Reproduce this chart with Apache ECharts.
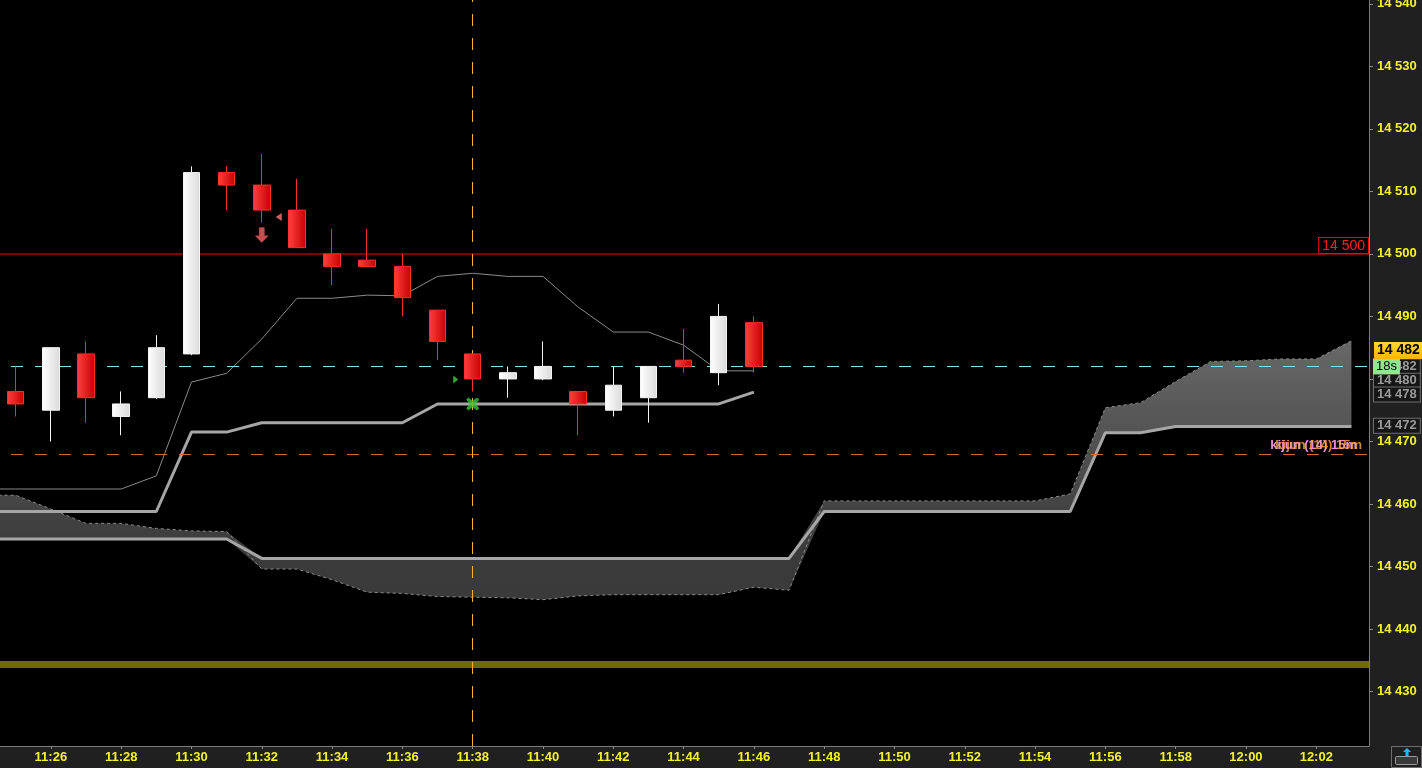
<!DOCTYPE html>
<html><head><meta charset="utf-8">
<script src="https://cdn.jsdelivr.net/npm/echarts@6/dist/echarts.min.js"></script>
<style>html,body{margin:0;padding:0;background:#202020;overflow:hidden}#c{width:1422px;height:768px;}</style>
</head><body><div id="c"></div>
<script>
// ---- categories (1-minute bars) ----
const categories = ['11:24','11:25','11:26','11:27','11:28','11:29','11:30','11:31','11:32','11:33',
  '11:34','11:35','11:36','11:37','11:38','11:39','11:40','11:41','11:42','11:43','11:44','11:45',
  '11:46','11:47','11:48','11:49','11:50','11:51','11:52','11:53','11:54','11:55','11:56','11:57',
  '11:58','11:59','12:00','12:01','12:02','12:03'];

// ---- candles ----
const candleTimes = ['11:25','11:26','11:27','11:28','11:29','11:30','11:31','11:32','11:33','11:34','11:35',
  '11:36','11:37','11:38','11:39','11:40','11:41','11:42','11:43','11:44','11:45','11:46'];
const opens  = [14478,14475,14484,14474,14477,14484,14513,14511,14507,14500,14499,14498,14491,14484,14480,14480,14478,14475,14477,14483,14481,14489];
const closes = [14476,14485,14477,14476,14485,14513,14511,14507,14501,14498,14498,14493,14486,14480,14481,14482,14476,14479,14482,14482,14490,14482];
const lows   = [14474,14470,14473,14471,14476.8,14483.8,14507,14505,14501,14495,14498,14490,14483,14478,14477,14479.8,14471,14474,14473,14481,14479,14481];
const highs  = [14482,14485,14486,14478,14487,14514,14514,14516,14512,14504,14504,14500,14491,14484,14482,14486,14478,14482,14482,14488,14492,14490];

// ---- ichimoku lines (index aligned with categories) ----
const tenkan = [14462.4,14462.4,14462.4,14462.4,14462.4,14464.5,14479.5,14480.9,14486.4,14492.9,14492.9,14493.4,
  14493.3,14496.4,14496.9,14496.4,14496.4,14491.5,14487.5,14487.5,14485.4,14481.3,14481.3];
const kijun = [14458.8,14458.8,14458.8,14458.8,14458.8,14458.8,14471.5,14471.5,14473.0,14473.0,14473.0,14473.0,
  14473.0,14476.0,14476.0,14476.0,14476.0,14476.0,14476.0,14476.0,14476.0,14476.0,14477.9];
const senkouA = [14454.4,14454.4,14454.4,14454.4,14454.4,14454.4,14454.4,14454.4,
  14451.3,14451.3,14451.3,14451.3,14451.3,14451.3,14451.3,14451.3,14451.3,14451.3,14451.3,14451.3,14451.3,14451.3,14451.3,14451.3,
  14458.8,14458.8,14458.8,14458.8,14458.8,14458.8,14458.8,14458.8,
  14471.4,14471.4,14472.4,14472.4,14472.4,14472.4,14472.4,14472.4];
const senkouB = [14461.4,14461.4,14459.2,14456.9,14456.9,14456.1,14455.7,14455.6,14449.6,14449.6,14447.9,14445.9,
  14445.7,14445.2,14445.1,14445.0,14444.7,14445.3,14445.5,14445.5,14445.5,14445.5,14446.7,14446.2,
  14460.5,14460.5,14460.5,14460.5,14460.5,14460.5,14460.5,14461.6,14475.4,14476.2,14479.6,14482.8,
  14482.9,14483.2,14483.2,14486.1];

// ---- horizontal levels ----
const resistanceLevel = 14500;
const lastPrice = 14482;
const kijun15Level = 14468;
const supportLevel = 14434.4;
const cursorTime = '11:38';

// ---- right-axis value tags ----
const tagValues = [14482, 14479.7, 14477.5, 14472.5];
const tagTexts  = ['14 482', '14 480', '14 478', '14 472'];

// ---- signal markers ----
const sellArrowTimes = ['11:32'], sellArrowValues = [14503];
const sellTriTimes = ['11:32'],   sellTriValues = [14505.9];
const buyTriTimes = ['11:38'],    buyTriValues = [14479.9];
const crossTimes = ['11:38'],     crossValues = [14476.0];

const FONT = "'Liberation Sans',Arial,sans-serif";
const FS = 13;
const YEL = '#f2f22a';
const NOLINE = {color: 'rgba(0,0,0,0)', width: 0};
const fmtNum = v => { const s = String(Math.round(v)); return s.slice(0, s.length-3) + ' ' + s.slice(-3); };

const candleData = candleTimes.map((t,i)=>[t, opens[i], closes[i], lows[i], highs[i]]);
const cloudBase = senkouA.map((a,i)=>Math.min(a, senkouB[i]));
const cloudDiff = senkouA.map((a,i)=>Math.abs(a - senkouB[i]));
const pair = (ts, vs) => ts.map((t,i)=>[t, vs[i]]);

const tagLines = tagValues.map((v,i)=>({
  yAxis: v,
  lineStyle: NOLINE,
  label: {show: true, position: 'end', distance: 5, formatter: tagTexts[i],
    color: '#9a9a9a', fontFamily: FONT, fontSize: FS, fontWeight: 'bold',
    backgroundColor: '#161616', borderColor: '#6e6e6e', borderWidth: 1, padding: [1, 3, 0, 3]}
}));

const chart = echarts.init(document.getElementById('c'), null, {renderer: 'canvas'});
chart.setOption({
  backgroundColor: '#202020',
  animation: false,
  grid: {left: -37, right: 53, top: 0, bottom: 22, show: true, backgroundColor: '#000', borderWidth: 0,
    containLabel: false, outerBoundsMode: 'none'},
  xAxis: {
    type: 'category', data: categories, boundaryGap: true,
    axisLine: {show: true, lineStyle: {color: '#7a7a7a', width: 1}},
    axisTick: {show: true, alignWithLabel: true, length: 3, interval: i => i % 2 === 0 && i > 0, lineStyle: {color: '#8a8a8a'}},
    axisLabel: {interval: i => i % 2 === 0 && i > 0, color: YEL, fontFamily: FONT, fontSize: FS, fontWeight: 'bold', margin: 5},
    splitLine: {show: false}
  },
  yAxis: {
    type: 'value', position: 'right', min: 14421.3, max: 14540.6, minInterval: 10, maxInterval: 10, splitNumber: 12,
    axisLine: {show: true, lineStyle: {color: '#7a7a7a', width: 1}},
    axisTick: {show: true, length: 4, lineStyle: {color: '#8a8a8a'}},
    axisLabel: {color: YEL, fontFamily: FONT, fontSize: FS, fontWeight: 'bold', margin: 8,
      showMinLabel: false, showMaxLabel: false,
      formatter: v => Math.abs(v - Math.round(v/10)*10) < 1e-6 ? fmtNum(v) : ''},
    splitLine: {show: false}
  },
  series: [
    {type: 'line', name: 'cloudBase', data: cloudBase, stack: 'cloud', symbol: 'none', silent: true, z: 1,
      lineStyle: NOLINE},
    {type: 'line', name: 'cloud', data: cloudDiff, stack: 'cloud', symbol: 'none', silent: true, z: 1,
      lineStyle: NOLINE,
      areaStyle: {opacity: 1, color: {type: 'linear', x: 0, y: 0, x2: 0, y2: 1, colorStops: [
        {offset: 0, color: '#686868'}, {offset: 0.3, color: '#575757'}, {offset: 0.62, color: '#454545'},
        {offset: 0.8, color: '#3b3b3b'}, {offset: 1, color: '#3a3a3a'}]}}},
    {type: 'line', name: 'senkouB', data: senkouB, symbol: 'none', silent: true, z: 2,
      lineStyle: {color: '#8c8c8c', width: 1, type: [3, 3]}},
    {type: 'line', name: 'senkouA', data: senkouA, symbol: 'none', silent: true, z: 3,
      lineStyle: {color: '#a6a6a6', width: 3}},
    {type: 'line', name: 'kijun', data: kijun, symbol: 'none', silent: true, z: 3,
      lineStyle: {color: '#a6a6a6', width: 3}},
    {type: 'line', name: 'tenkan', data: tenkan, symbol: 'none', silent: true, z: 3,
      lineStyle: {color: '#8a8a8a', width: 1}},
    {type: 'candlestick', name: 'price', data: candleData, encode: {x: 0, y: [1, 2, 3, 4]}, barWidth: 17, z: 5,
      itemStyle: {
        color: {type: 'linear', x: 0, y: 0, x2: 1, y2: 0, colorStops: [{offset: 0, color: '#ffffff'}, {offset: 1, color: '#dadada'}]},
        color0: {type: 'linear', x: 0, y: 0, x2: 1, y2: 0, colorStops: [{offset: 0, color: '#ff4040'}, {offset: 1, color: '#c80000'}]},
        borderColor: '#f4f4f4', borderColor0: '#ff2e2e', borderWidth: 1
      }
    },
    // level lines
    {type: 'line', name: 'levels', data: [], z: 7, silent: true,
      markLine: {
        symbol: ['none', 'none'], silent: true, animation: false,
        data: [
          {yAxis: supportLevel, lineStyle: {color: 'rgba(222,214,0,0.5)', width: 7, type: 'solid'}, label: {show: false}},
          {yAxis: resistanceLevel, lineStyle: {color: 'rgba(255,0,0,0.5)', width: 2, type: 'solid'},
            label: {show: true, position: 'insideEndTop', distance: 1, formatter: fmtNum(resistanceLevel),
              color: '#ff2020', fontFamily: FONT, fontSize: 14, backgroundColor: '#000',
              borderColor: '#ff0000', borderWidth: 1, padding: [1, 3, 0, 3]}},
          {yAxis: kijun15Level, lineStyle: {color: '#d0683c', width: 1, type: [12, 12]},
            label: {show: true, position: 'insideEndTop', distance: 2, formatter: 'kijun (14) 15m',
              color: '#e890d8', fontFamily: FONT, fontSize: FS, fontWeight: 'bold', padding: [0, 10, 0, 0]}},
          {yAxis: kijun15Level, lineStyle: NOLINE,
            label: {show: true, position: 'insideEndTop', distance: 2, formatter: 'kijun (14) 15m',
              color: 'rgba(255,165,60,0.8)', fontFamily: FONT, fontSize: FS, fontWeight: 'bold', padding: [0, 5, 0, 0]}}
        ]
      }
    },
    {type: 'line', name: 'cursor', data: [], z: 7, silent: true,
      markLine: {
        symbol: ['none', 'none'], silent: true, animation: false,
        lineStyle: {color: '#ffb020', width: 1, type: [12, 12]},
        label: {show: false},
        data: [{xAxis: cursorTime}]
      }
    },
    {type: 'line', name: 'tags', data: [], z: 8, silent: true,
      markLine: {
        symbol: ['none', 'none'], silent: true, animation: false,
        data: [
          ...tagLines,
          {yAxis: lastPrice, lineStyle: {color: '#80e4f0', width: 1, type: [12, 12]},
            label: {show: true, position: 'end', distance: 4, formatter: '18s', color: '#000',
              fontFamily: FONT, fontSize: FS, backgroundColor: '#8fe88f', padding: [2, 3, 1, 3]}},
          {yAxis: lastPrice, lineStyle: NOLINE,
            label: {show: true, position: 'end', distance: 5, offset: [0, -16], formatter: fmtNum(lastPrice), color: '#000',
              fontFamily: FONT, fontSize: 14, fontWeight: 'bold',
              backgroundColor: {type: 'linear', x: 0, y: 0, x2: 0, y2: 1, colorStops: [{offset: 0, color: '#ffd830'}, {offset: 1, color: '#f5b800'}]},
              padding: [2, 3, 1, 3]}}
        ]
      }
    },
    {type: 'scatter', name: 'sellArrow', data: pair(sellArrowTimes, sellArrowValues), z: 6, silent: true,
      symbol: 'path://M3,0 L7,0 L7,6 L10,6 L5,11 L0,6 L3,6 Z', symbolSize: [13, 15],
      itemStyle: {color: '#f86464', borderColor: '#d04848', borderWidth: 0.5}},
    {type: 'scatter', name: 'sellTri', data: pair(sellTriTimes, sellTriValues), z: 6, silent: true,
      symbol: 'path://M6,0 L6,8 L0,4 Z', symbolSize: [6, 8], symbolOffset: [17, 0],
      itemStyle: {color: '#ff7878'}},
    {type: 'scatter', name: 'buyTri', data: pair(buyTriTimes, buyTriValues), z: 6, silent: true,
      symbol: 'path://M0,0 L0,8 L6,4 Z', symbolSize: [5, 8], symbolOffset: [-17, 0],
      itemStyle: {color: '#40d040'}},
    {type: 'scatter', name: 'cross', data: pair(crossTimes, crossValues), z: 9, silent: true,
      symbol: 'path://M2,0 L6,3 L10,0 L12,2 L9,6 L12,10 L10,12 L6,9 L2,12 L0,10 L3,6 L0,2 Z', symbolSize: [13, 13],
      itemStyle: {color: '#3cc43c'}}
  ],
  graphic: [
    {type: 'rect', right: 0, bottom: 0, shape: {width: 30, height: 21}, style: {fill: '#202020', stroke: '#6e6e6e', lineWidth: 1}, z: 100},
    {type: 'rect', right: 4, bottom: 3, shape: {width: 22, height: 8, r: 1}, style: {fill: '#3a3a3a', stroke: '#9a9a9a', lineWidth: 1}, z: 101},
    {type: 'polygon', right: 11, bottom: 12, shape: {points: [[4,0],[8,4],[5.5,4],[5.5,8],[2.5,8],[2.5,4],[0,4]]}, style: {fill: '#2ab4ff'}, z: 101}
  ]
});
</script>
</body></html>
